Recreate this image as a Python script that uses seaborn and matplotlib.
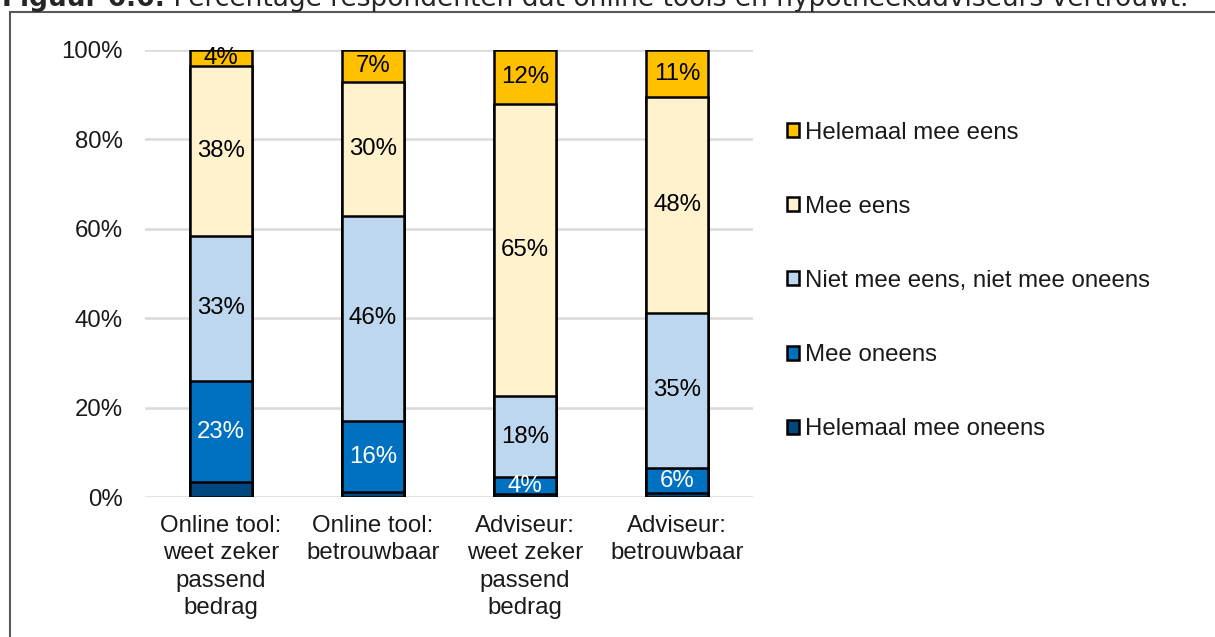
import matplotlib
matplotlib.use("Agg")
import matplotlib.pyplot as plt
import seaborn as sns
import numpy as np
import pandas as pd
from matplotlib.patches import Patch, Rectangle
from matplotlib.ticker import PercentFormatter

# Data (percentages)
categories = ["Online tool:\nweet zeker\npassend\nbedrag", "Online tool:\nbetrouwbaar",
              "Adviseur:\nweet zeker\npassend\nbedrag", "Adviseur:\nbetrouwbaar"]
levels = ["Helemaal mee oneens", "Mee oneens", "Niet mee eens, niet mee oneens",
          "Mee eens", "Helemaal mee eens"]
helemaal_oneens = [3.3, 1.1, 0.6, 0.8]
oneens = [22.6, 15.9, 3.8, 5.7]
neutraal = [32.6, 45.9, 18.1, 34.7]
eens = [37.9, 30.0, 65.4, 48.2]
helemaal_eens = [3.6, 7.1, 12.1, 10.6]

colors = ["#00467F", "#0070C0", "#BDD7EE", "#FFF2CC", "#FFC000"]
label_colors = [None, "white", "black", "black", "black"]

title_bold = "Figuur 6.6:"
title_rest = " Percentage respondenten dat online tools en hypotheekadviseurs vertrouwt."

FS = 17.3

if __name__ == "__main__":
    sns.set_style("white")
    plt.rcParams["font.family"] = ["Liberation Sans", "DejaVu Sans"]

    series = [helemaal_oneens, oneens, neutraal, eens, helemaal_eens]
    df = pd.DataFrame({lvl: vals for lvl, vals in zip(levels, series)}, index=categories)
    cum = df.cumsum(axis=1)

    fig = plt.figure(figsize=(12.15, 6.37), dpi=100)
    ax = fig.add_axes([145 / 1215, 140 / 637, 608 / 1215, 447 / 637])

    # stacked bars: draw cumulative totals from the top level down
    for i in reversed(range(len(levels))):
        sns.barplot(x=categories, y=cum[levels[i]].values, order=categories,
                    color=colors[i], saturation=1, width=0.41,
                    edgecolor="black", linewidth=1.8, ax=ax, zorder=2)

    # segment labels
    for i, lvl in enumerate(levels):
        if label_colors[i] is None:
            continue
        for j, cat in enumerate(categories):
            v = df.loc[cat, lvl]
            mid = cum.loc[cat, lvl] - v / 2
            ax.text(j, mid, f"{round(v)}%", ha="center", va="center",
                    fontsize=FS, color=label_colors[i], zorder=3)

    ax.set_ylim(0, 100)
    ax.set_xlim(-0.5, 3.5)
    ax.set_yticks([0, 20, 40, 60, 80, 100])
    ax.yaxis.set_major_formatter(PercentFormatter(100, decimals=0))
    ax.set_xticks(range(len(categories)), categories, linespacing=1.32)
    ax.grid(axis="y", color="#d9d9d9", linewidth=1.8)
    ax.set_axisbelow(True)
    for s in ax.spines.values():
        s.set_visible(False)
    ax.tick_params(axis="y", length=0, pad=16, labelsize=FS, labelcolor="#1a1a1a")
    ax.tick_params(axis="x", length=0, pad=13, labelsize=FS, labelcolor="#1a1a1a")
    ax.set_xlabel("")
    ax.set_ylabel("")

    # legend
    handles = [Patch(facecolor=colors[i], edgecolor="black", linewidth=1.8, label=levels[i])
               for i in reversed(range(len(levels)))]
    ax.legend(handles=handles, loc="center left", bbox_to_anchor=(787 / 1215, 1 - 281 / 637),
              bbox_transform=fig.transFigure, frameon=False, fontsize=FS,
              handlelength=0.52, handleheight=0.52, handletextpad=0.22,
              labelspacing=2.17, borderpad=0, borderaxespad=0, labelcolor="#1a1a1a")

    # frame around figure and clipped caption
    fig.patches.append(Rectangle((10 / 1215, -0.05), 1.2, 1 - 12 / 637 + 0.05,
                                 transform=fig.transFigure, fill=False,
                                 edgecolor="#595959", linewidth=1.5))
    tb = fig.text(2 / 1215, 1 - 6 / 637, title_bold, fontsize=19, fontweight="bold",
                  family="DejaVu Sans", va="baseline", ha="left")
    r = fig.canvas.get_renderer()
    bb = tb.get_window_extent(renderer=r)
    fig.text(bb.x1 / fig.bbox.width, 1 - 6 / 637, title_rest, fontsize=19,
             family="DejaVu Sans", va="baseline", ha="left")

    fig.savefig("out.png", dpi=100)
